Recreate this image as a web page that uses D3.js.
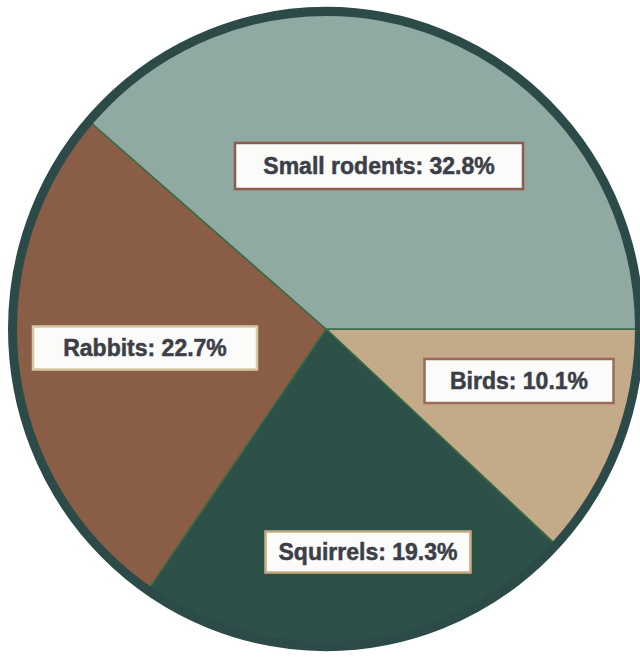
<!DOCTYPE html>
<html>
<head>
<meta charset="utf-8">
<script src="https://cdn.jsdelivr.net/npm/d3@7"></script>
<style>
  html, body { margin: 0; padding: 0; background: #ffffff; }
  svg { display: block; }
</style>
</head>
<body>
<svg id="chart" width="640" height="658"></svg>
<script>
// Diet composition, clockwise from 3 o'clock
const categories = ["Birds", "Squirrels", "Rabbits", "Small rodents"];
const shares = [10.1, 19.3, 22.7, 32.8];
const labels = ["Birds: 10.1%", "Squirrels: 19.3%", "Rabbits: 22.7%", "Small rodents: 32.8%"];

const sliceColors = ["#c3aa88", "#2d5048", "#8a5e46", "#90a9a2"];
const boxStrokes = ["#9b6b58", "#c8aa80", "#d9c7a9", "#8c5b4c"];

// label box centres and widths
const boxLayout = [
  { cx: 519, cy: 381, w: 189, h: 44, tw: 144 },
  { cx: 368, cy: 552, w: 205, h: 41, tw: 185 },
  { cx: 145, cy: 348, w: 224, h: 43, tw: 168 },
  { cx: 379, cy: 166, w: 288, h: 46, tw: 238 }
];

const svg = d3.select("#chart");
const cx = 326, cy = 329;
const R = 318, ringW = 9;
const yStretch = 1.013;

const g = svg.append("g")
  .attr("transform", `translate(${cx},${cy}) scale(1,${yStretch})`);

const pie = d3.pie()
  .sort(null)
  .value(d => d)
  .startAngle(Math.PI / 2)
  .endAngle(Math.PI / 2 + 2 * Math.PI);

const arc = d3.arc().innerRadius(0).outerRadius(R - ringW / 2);

const arcs = pie(shares);

g.selectAll("path.slice")
  .data(arcs)
  .join("path")
  .attr("class", "slice")
  .attr("d", arc)
  .attr("fill", (d, i) => sliceColors[i])
  .attr("stroke", "#3a6a45")
  .attr("stroke-width", 1.5);

// dark outer ring over the slice edges
g.append("circle")
  .attr("r", R - ringW / 2)
  .attr("fill", "none")
  .attr("stroke", "#2c4a47")
  .attr("stroke-width", ringW);

// label boxes
const lab = svg.append("g").selectAll("g.label")
  .data(labels)
  .join("g")
  .attr("class", "label")
  .attr("transform", (d, i) => `translate(${boxLayout[i].cx},${boxLayout[i].cy})`);

lab.append("rect")
  .attr("x", (d, i) => -boxLayout[i].w / 2)
  .attr("y", (d, i) => -boxLayout[i].h / 2)
  .attr("width", (d, i) => boxLayout[i].w)
  .attr("height", (d, i) => boxLayout[i].h)
  .attr("fill", "#fbfbfa")
  .attr("stroke", (d, i) => boxStrokes[i])
  .attr("stroke-width", 2.5);

lab.append("text")
  .attr("text-anchor", "middle")
  .attr("dy", "0.36em")
  .attr("font-family", "'Liberation Sans', Arial, sans-serif")
  .attr("font-weight", "bold")
  .attr("font-size", 20)
  .attr("fill", "#3c3f47")
  .attr("stroke", "#3c3f47")
  .attr("stroke-width", 0.5)
  .text(d => d)
  .each(function (d, i) {
    const w = this.getComputedTextLength();
    const fs = 20 * boxLayout[i].tw / w;
    d3.select(this).attr("font-size", Math.min(fs, 23));
  });
</script>
</body>
</html>
